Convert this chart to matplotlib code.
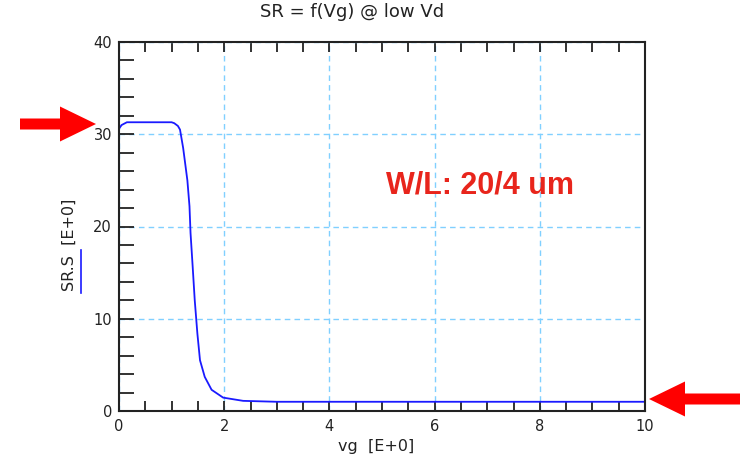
import matplotlib
matplotlib.use('Agg')
import matplotlib.pyplot as plt
from matplotlib.patches import FancyArrow
from matplotlib.lines import Line2D

# SR vs Vg sweep at low Vd
vg = [0.0, 0.05, 0.15, 0.5, 1.0, 1.05, 1.12, 1.16, 1.22, 1.30, 1.34, 1.36, 1.40,
      1.44, 1.49, 1.54, 1.63, 1.76, 1.98, 2.36, 3.0, 5.0, 8.0, 10.0]
sr = [30.6, 31.0, 31.3, 31.3, 31.3, 31.2, 30.9, 30.5, 28.5, 25.0, 22.2, 19.3, 15.7,
      12.0, 8.4, 5.5, 3.7, 2.3, 1.45, 1.1, 1.0, 1.0, 1.0, 1.0]

title = 'SR = f(Vg) @ low Vd'
xlabel = 'vg  [E+0]'
ylabel = 'SR.S  [E+0]'
note = 'W/L: 20/4 um'

plt.rcParams['font.family'] = ['DejaVu Sans']
W, H = 746, 459

fig = plt.figure(figsize=(W / 100, H / 100), dpi=100)
ax = fig.add_axes([119 / W, 1 - 411 / H, 526 / W, 369 / H])

ax.plot(vg, sr, color='#1a1aff', lw=1.3)

ax.set_xlim(0, 10)
ax.set_ylim(0, 40)
ax.set_xticks([0, 2, 4, 6, 8, 10])
ax.set_yticks([0, 10, 20, 30, 40])
ax.set_xticks([i * 0.5 for i in range(21)], minor=True)
ax.set_yticks([i * 2 for i in range(21)], minor=True)
ax.tick_params(which='both', direction='in', top=True, right=False,
               labelsize=10.5, labelcolor='#222222', width=1.3, color='#222222')
ax.tick_params(axis='x', which='both', length=7, pad=6)
ax.tick_params(axis='y', which='both', length=11, pad=5)
ax.grid(True, which='major', color='#80d0ff', ls=(0, (4, 3)), lw=1)
for s in ax.spines.values():
    s.set_linewidth(1.5)
    s.set_color('#222222')

fig.text(352 / W, 1 - 12 / H, title, fontsize=13, color='#222222',
         ha='center', va='center')
fig.text(376 / W, 1 - 447 / H, xlabel, fontsize=11.5, color='#222222',
         ha='center', va='center')
fig.text(69 / W, 1 - 245 / H, ylabel, fontsize=11.5, color='#222222',
         ha='center', va='center', rotation=90)

# blue legend stroke beside the y label
fig.add_artist(Line2D([81 / W, 81 / W], [1 - 293 / H, 1 - 250 / H],
                      color='#1a1aff', lw=1.2, transform=fig.transFigure))

ax.text((480 - 119) / 526, (411 - 186) / 369, note, transform=ax.transAxes,
        color='#e8251c', fontsize=22, fontweight='bold', ha='center',
        va='center', family=['Liberation Sans', 'DejaVu Sans'])

# red arrows marking the two plateau levels
arrow = dict(width=11 / H, head_width=35 / H, head_length=36 / W,
             length_includes_head=False, color='#ff0000', lw=0,
             transform=fig.transFigure)
fig.add_artist(FancyArrow(20 / W, 1 - 124 / H, 40 / W, 0, **arrow))
fig.add_artist(FancyArrow(740 / W, 1 - 399 / H, -55 / W, 0, **arrow))

fig.savefig('out.png', dpi=100)
